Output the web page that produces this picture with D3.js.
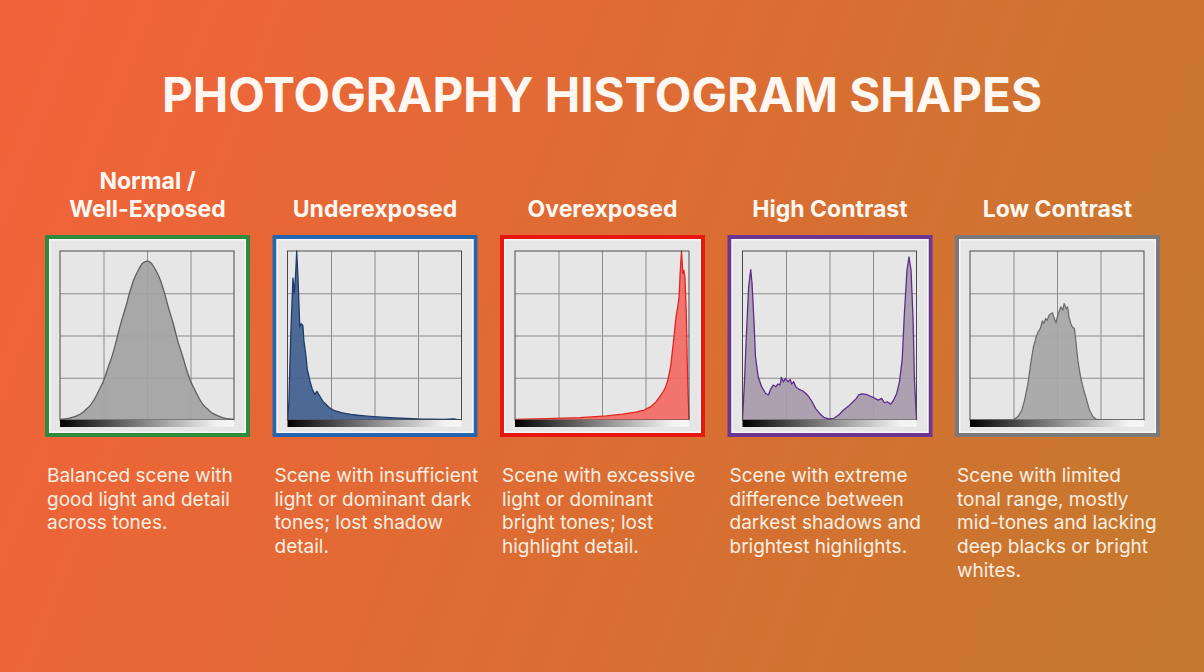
<!DOCTYPE html>
<html>
<head>
<meta charset="utf-8">
<script src="https://cdn.jsdelivr.net/npm/d3@7"></script>
<style>
  html, body { margin: 0; padding: 0; }
  body { width: 1204px; height: 672px; overflow: hidden; }
</style>
</head>
<body>
<div class="histogram-shapes-container"></div>
<script>
// Histogram shapes - tone (0-255) / relative count pairs
var chartTitle = "PHOTOGRAPHY HISTOGRAM SHAPES";

var panelTitles = [
    ["Normal /", "Well-Exposed"],
    ["Underexposed"],
    ["Overexposed"],
    ["High Contrast"],
    ["Low Contrast"]
];

var panelTexts = [
    ["Balanced scene with", "good light and detail", "across tones."],
    ["Scene with insufficient", "light or dominant dark", "tones; lost shadow", "detail."],
    ["Scene with excessive", "light or dominant", "bright tones; lost", "highlight detail."],
    ["Scene with extreme", "difference between", "darkest shadows and", "brightest highlights."],
    ["Scene with limited", "tonal range, mostly", "mid-tones and lacking", "deep blacks or bright", "whites."]
];

var normalHist = [
    [0, 0.004], [6, 0.006], [13, 0.010], [19, 0.017], [26, 0.027], [32, 0.041], [38, 0.062],
    [45, 0.090], [51, 0.127], [57, 0.175], [64, 0.234], [70, 0.305], [77, 0.387], [83, 0.476],
    [89, 0.570], [96, 0.664], [102, 0.753], [108, 0.829], [115, 0.889], [121, 0.927], [128, 0.940],
    [134, 0.927], [140, 0.889], [147, 0.829], [153, 0.753], [159, 0.664], [166, 0.570], [172, 0.476],
    [179, 0.387], [185, 0.305], [191, 0.234], [198, 0.175], [204, 0.127], [210, 0.090], [217, 0.062],
    [223, 0.041], [230, 0.027], [236, 0.017], [242, 0.010], [249, 0.006], [255, 0.004]
];

var underHist = [
    [0, 0], [2, 0.10], [5, 0.53], [8, 0.84], [10, 0.75], [12, 0.87], [13.5, 1.0], [15.5, 0.83],
    [18, 0.55], [20, 0.57], [22.5, 0.56], [24, 0.47], [27, 0.38], [29, 0.30], [33, 0.23],
    [36.5, 0.18], [40, 0.15], [43, 0.17], [46, 0.15], [49, 0.13], [52, 0.11], [57, 0.09],
    [62, 0.07], [66, 0.062], [69, 0.055], [74, 0.050], [79, 0.043], [86, 0.038], [93, 0.033],
    [103, 0.028], [113, 0.024], [122, 0.021], [132, 0.018], [145, 0.015], [157, 0.012],
    [175, 0.009], [191, 0.006], [210, 0.005], [230, 0.004], [243, 0.006], [248, 0.003], [255, 0.002]
];

var overHist = [
    [0, 0.004], [46, 0.008], [95, 0.014], [134, 0.024], [158, 0.035], [177, 0.047], [189, 0.059],
    [199, 0.079], [207, 0.108], [214, 0.148], [220, 0.187], [224, 0.236], [228, 0.315],
    [232, 0.453], [236, 0.61], [238.5, 0.67], [240.5, 0.728], [242, 0.866], [244, 1.0],
    [246, 0.866], [247.5, 0.886], [249, 0.846], [251, 0.63], [253, 0.236], [255, 0.004]
];

var highHist = [
    [0, 0.004], [3, 0.236], [6, 0.53], [9, 0.787], [12, 0.89], [14, 0.807], [17, 0.57], [19, 0.374],
    [23, 0.256], [28, 0.197], [34, 0.157], [38, 0.148], [41, 0.181], [45, 0.207], [49, 0.197],
    [52, 0.213], [55, 0.207], [57, 0.252], [60, 0.226], [63, 0.246], [67, 0.226], [70, 0.24],
    [72, 0.213], [75, 0.226], [78, 0.197], [83, 0.181], [88, 0.173], [93, 0.157], [97, 0.138],
    [102, 0.108], [107, 0.069], [113, 0.039], [119, 0.016], [126, 0.006], [134, 0.010],
    [141, 0.030], [148, 0.059], [156, 0.085], [162, 0.108], [167, 0.128], [170, 0.148],
    [175, 0.154], [181, 0.152], [187, 0.142], [194, 0.128], [199, 0.118], [204, 0.128],
    [208, 0.102], [212, 0.108], [217, 0.094], [221, 0.114], [226, 0.157], [230, 0.226],
    [234, 0.354], [237, 0.61], [241, 0.886], [244, 0.965], [247, 0.886], [250, 0.59],
    [252, 0.236], [255, 0.004]
];

var lowHist = [
    [0, 0], [63, 0], [66, 0.008], [71, 0.024], [76, 0.059], [80, 0.118], [85, 0.217], [89, 0.335],
    [93, 0.433], [97, 0.492], [100, 0.522], [103, 0.541], [106, 0.587], [108, 0.571], [111, 0.60],
    [113, 0.59], [116, 0.62], [119, 0.63], [121, 0.634], [123, 0.606], [126, 0.575], [128, 0.61],
    [131, 0.646], [133, 0.669], [136, 0.65], [138, 0.689], [141, 0.659], [143, 0.669], [145, 0.61],
    [148, 0.567], [150, 0.551], [153, 0.541], [155, 0.472], [158, 0.354], [162, 0.256],
    [166, 0.187], [171, 0.118], [175, 0.059], [180, 0.020], [185, 0.004], [190, 0], [255, 0]
];

var histograms = [normalHist, underHist, overHist, highHist, lowHist];
var frameColors = ["#2e8a3c", "#2466b0", "#e8170f", "#6b3591", "#7a7a7a"];
var fillColors = ["#a3a3a3", "#3f5f8e", "#f26a64", "#a89aab", "#a6a6a6"];
var lineColors = ["#5f5f5f", "#1e3b6b", "#e3241d", "#5e2d8a", "#6e6e6e"];

var width = 1204, height = 672;

var svg = d3.select('.histogram-shapes-container')
    .append('svg')
    .attr("width", width)
    .attr("height", height)
    .style("display", "block");

var defs = svg.append("defs");

var bg = defs.append("linearGradient")
    .attr("id", "bg")
    .attr("gradientUnits", "userSpaceOnUse")
    .attr("x1", 0).attr("y1", 100)
    .attr("x2", 1204).attr("y2", 560);
bg.append("stop").attr("offset", "0%").attr("stop-color", "#f2623a");
bg.append("stop").attr("offset", "50%").attr("stop-color", "#dd6c33");
bg.append("stop").attr("offset", "100%").attr("stop-color", "#c4792e");

var tone = defs.append("linearGradient")
    .attr("id", "tone")
    .attr("x1", "0%").attr("y1", "0%")
    .attr("x2", "100%").attr("y2", "0%");
tone.append("stop").attr("offset", "0%").attr("stop-color", "#000");
tone.append("stop").attr("offset", "50%").attr("stop-color", "#8a8a8a");
tone.append("stop").attr("offset", "90%").attr("stop-color", "#f2f2f2");
tone.append("stop").attr("offset", "100%").attr("stop-color", "#f6f6f6");

svg.append("rect")
    .attr("width", width)
    .attr("height", height)
    .attr("fill", "url(#bg)");

svg.append("text")
    .attr("x", 602)
    .attr("y", 112)
    .attr("text-anchor", "middle")
    .attr("font-family", "Inter, Roboto, sans-serif")
    .attr("font-weight", 700)
    .attr("font-size", 47.5)
    .attr("fill", "#fff8f2")
    .text(chartTitle);

var panelX = d3.scaleLinear().domain([0, 4]).range([45, 955]);
var panelW = 205, panelH = 202, panelTop = 235;

var plotLeft = 15, plotW = 174, plotTop = 16, plotH = 169;

var x = d3.scaleLinear()
    .domain([0, 255])
    .range([0, plotW]);

var y = d3.scaleLinear()
    .domain([0, 1])
    .range([plotH, 0]);

histograms.forEach(function(data, i) {

    var g = svg.append("g")
        .attr("transform", "translate(" + panelX(i) + "," + panelTop + ")");

    g.append("rect")
        .attr("x", 2).attr("y", 2)
        .attr("width", panelW - 4).attr("height", panelH - 4)
        .attr("fill", "#e6e6e6")
        .attr("stroke", frameColors[i])
        .attr("stroke-width", 4);

    g.append("rect")
        .attr("x", 4.75).attr("y", 4.75)
        .attr("width", panelW - 9.5).attr("height", panelH - 9.5)
        .attr("fill", "none")
        .attr("stroke", "#f6f6f6")
        .attr("stroke-width", 1.5);

    var plot = g.append("g")
        .attr("transform", "translate(" + plotLeft + "," + plotTop + ")");

    // grid: 4 x 4
    var xAxis = d3.axisBottom(x)
        .tickValues([63.75, 127.5, 191.25])
        .tickSize(-plotH)
        .tickFormat("");

    var yAxis = d3.axisLeft(y)
        .tickValues([0.25, 0.5, 0.75])
        .tickSize(-plotW)
        .tickFormat("");

    plot.append("g")
        .attr("class", "grid")
        .attr("transform", "translate(0," + plotH + ")")
        .call(xAxis);

    plot.append("g")
        .attr("class", "grid")
        .call(yAxis);

    plot.selectAll(".grid .domain").remove();
    plot.selectAll(".grid line")
        .attr("stroke", "#8c8c8c")
        .attr("stroke-width", 1);

    var area = d3.area()
        .x(function(d) { return x(d[0]); })
        .y0(plotH)
        .y1(function(d) { return y(d[1]); })
        .curve(i === 0 ? d3.curveMonotoneX : d3.curveLinear);

    var line = d3.line()
        .x(function(d) { return x(d[0]); })
        .y(function(d) { return y(d[1]); })
        .curve(i === 0 ? d3.curveMonotoneX : d3.curveLinear);

    plot.append("path")
        .datum(data)
        .attr("d", area)
        .attr("fill", fillColors[i])
        .attr("fill-opacity", 0.92);

    plot.append("path")
        .datum(data)
        .attr("d", line)
        .attr("fill", "none")
        .attr("stroke", lineColors[i])
        .attr("stroke-width", 1.3)
        .attr("stroke-linejoin", "round");

    plot.append("rect")
        .attr("width", plotW)
        .attr("height", plotH)
        .attr("fill", "none")
        .attr("stroke", "#4a4a4a")
        .attr("stroke-width", 1);

    // tone bar under the plot
    plot.append("rect")
        .attr("y", plotH)
        .attr("width", plotW)
        .attr("height", 7)
        .attr("fill", "url(#tone)");

    // panel title
    var lines = panelTitles[i];
    svg.append("text")
        .attr("x", panelX(i) + panelW / 2)
        .attr("text-anchor", "middle")
        .attr("font-family", "Inter, Roboto, sans-serif")
        .attr("font-weight", 700)
        .attr("font-size", 23)
        .attr("fill", "#fff8f2")
        .selectAll("tspan")
        .data(lines)
        .enter()
        .append("tspan")
        .attr("x", panelX(i) + panelW / 2)
        .attr("y", function(d, j) { return 217 - (lines.length - 1 - j) * 28; })
        .text(function(d) { return d; });

    // description
    svg.append("text")
        .attr("font-family", "Inter, Roboto, sans-serif")
        .attr("font-size", 19)
        .attr("fill", "#fcefe2")
        .selectAll("tspan")
        .data(panelTexts[i])
        .enter()
        .append("tspan")
        .attr("x", panelX(i) + 2)
        .attr("y", function(d, j) { return 482 + j * 23.7; })
        .text(function(d) { return d; });
});
</script>
</body>
</html>
